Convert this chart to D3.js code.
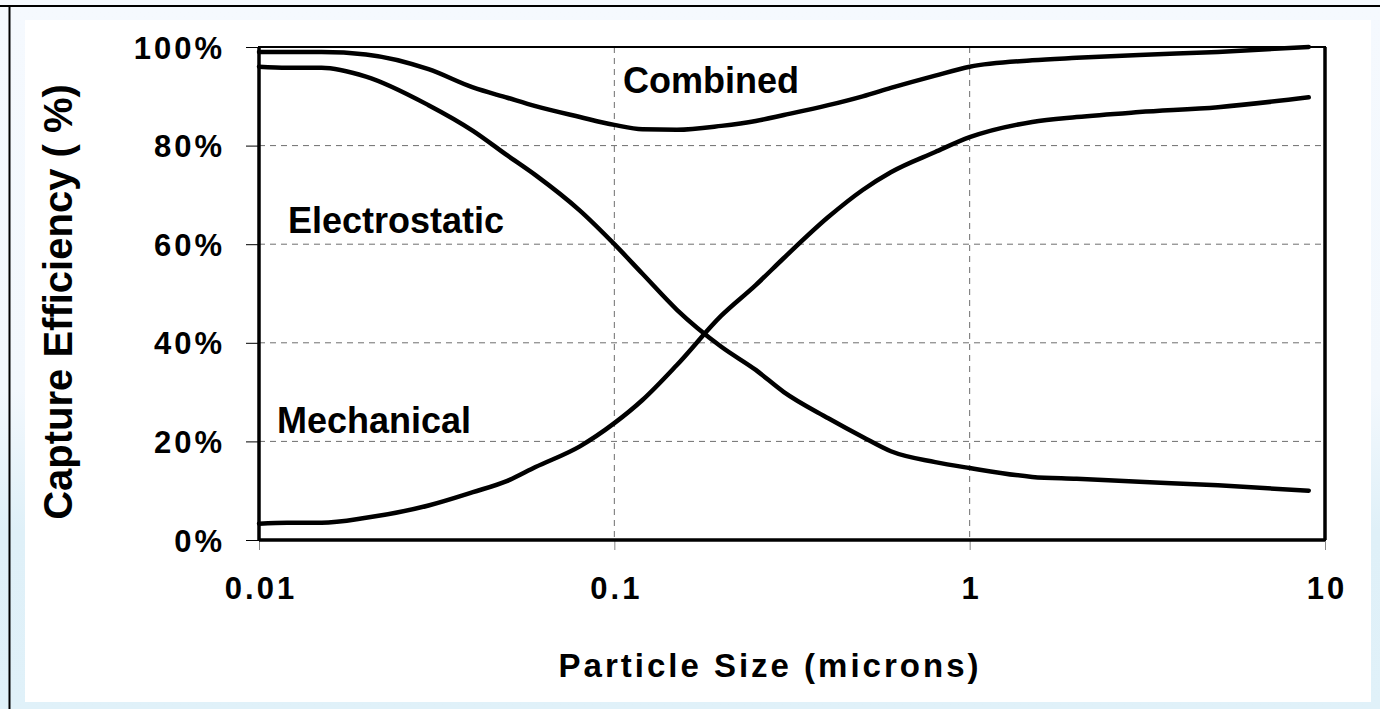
<!DOCTYPE html>
<html>
<head>
<meta charset="utf-8">
<script src="https://cdn.jsdelivr.net/npm/d3@7"></script>
<style>
  body { margin: 0; overflow: hidden; background: #fff; }
  text { font-family: Arial, "Liberation Sans", sans-serif; font-weight: bold; fill: #000; }
</style>
</head>
<body>
<script>
// particle sizes (microns)
const sizes = [0.01, 0.012, 0.015, 0.02, 0.03, 0.04, 0.05, 0.06, 0.08, 0.1, 0.12, 0.15, 0.2, 0.25, 0.3, 0.4, 0.5, 0.6, 0.8, 1, 1.5, 2, 3, 5, 9];

// capture efficiency, fraction 0..1
const combined = [0.99, 0.99, 0.99, 0.985, 0.955, 0.918, 0.897, 0.88, 0.858, 0.842, 0.833, 0.832, 0.84, 0.85, 0.862, 0.882, 0.9, 0.917, 0.942, 0.96, 0.973, 0.978, 0.984, 0.99, 1.0];
const electrostatic = [0.96, 0.958, 0.958, 0.94, 0.882, 0.83, 0.78, 0.74, 0.668, 0.6, 0.54, 0.467, 0.392, 0.345, 0.3, 0.247, 0.209, 0.18, 0.158, 0.146, 0.128, 0.124, 0.118, 0.111, 0.1];
const mechanical = [0.033, 0.035, 0.035, 0.045, 0.07, 0.097, 0.12, 0.148, 0.19, 0.237, 0.284, 0.355, 0.455, 0.517, 0.572, 0.655, 0.71, 0.746, 0.787, 0.817, 0.848, 0.858, 0.868, 0.878, 0.898];

const xTicks = [0.01, 0.1, 1, 10];
const yTicks = [0, 0.2, 0.4, 0.6, 0.8, 1];

// series labels placed inside the plot
const labels = [
  { text: 'Combined', x: 623, y: 93 },
  { text: 'Electrostatic', x: 288, y: 233 },
  { text: 'Mechanical', x: 277, y: 433 }
];

const width = 1380;
const height = 709;
const plot = { left: 259, right: 1325, top: 47, bottom: 540 };

const svg = d3.create('svg')
  .attr('width', width)
  .attr('height', height);

// light blue page background
const grad = svg.append('defs')
  .append('linearGradient')
  .attr('id', 'bg')
  .attr('x1', 0).attr('y1', 0).attr('x2', 0).attr('y2', 1);
grad.append('stop').attr('offset', '0%').attr('stop-color', '#f5f9fe');
grad.append('stop').attr('offset', '55%').attr('stop-color', '#f3f8fd');
grad.append('stop').attr('offset', '75%').attr('stop-color', '#dff0f8');
grad.append('stop').attr('offset', '100%').attr('stop-color', '#e0f1f9');

svg.append('rect')
  .attr('width', width).attr('height', height)
  .attr('fill', 'url(#bg)');

// outer frame lines (left and top only)
svg.append('line')
  .attr('x1', 0).attr('x2', width).attr('y1', 6).attr('y2', 6)
  .attr('stroke', '#000').attr('stroke-width', 2);
svg.append('line')
  .attr('x1', 9.5).attr('x2', 9.5).attr('y1', 6).attr('y2', height)
  .attr('stroke', '#000').attr('stroke-width', 2);

// white chart area
svg.append('rect')
  .attr('x', 25).attr('y', 20)
  .attr('width', 1346).attr('height', 682)
  .attr('fill', '#fff');

const x = d3.scaleLog()
  .domain([0.01, 10])
  .range([plot.left, plot.right]);

const y = d3.scaleLinear()
  .domain([0, 1])
  .range([plot.bottom, plot.top]);

// dashed gridlines
svg.append('g')
  .selectAll('line')
  .data(yTicks.filter(d => d > 0 && d < 1))
  .join('line')
  .attr('x1', plot.left).attr('x2', plot.right)
  .attr('y1', d => y(d)).attr('y2', d => y(d))
  .attr('stroke', '#6e6e6e').attr('stroke-width', 1)
  .attr('stroke-dasharray', '6,5');

svg.append('g')
  .selectAll('line')
  .data(xTicks.filter(d => d > 0.01 && d < 10))
  .join('line')
  .attr('x1', d => x(d)).attr('x2', d => x(d))
  .attr('y1', plot.top).attr('y2', plot.bottom)
  .attr('stroke', '#6e6e6e').attr('stroke-width', 1)
  .attr('stroke-dasharray', '6,5');

// y axis
const yAxis = svg.append('g')
  .attr('transform', `translate(${plot.left},0)`)
  .call(d3.axisLeft(y).tickValues(yTicks).tickSize(13).tickFormat(d3.format('.0%')));
yAxis.select('.domain').remove();
yAxis.selectAll('.tick line').attr('stroke', '#000').attr('stroke-width', 1);
yAxis.selectAll('.tick text')
  .attr('x', -34)
  .attr('dy', '0.36em')
  .style('font-size', '31px')
  .style('letter-spacing', '3px')
  .attr('font-family', null);

// x axis
const xAxis = svg.append('g')
  .attr('transform', `translate(0,${plot.bottom})`)
  .call(d3.axisBottom(x).tickValues(xTicks).tickSize(10).tickFormat(d => String(d)));
xAxis.select('.domain').remove();
xAxis.selectAll('.tick line').attr('stroke', '#888').attr('stroke-width', 1);
xAxis.selectAll('.tick text')
  .attr('y', 59)
  .attr('dy', 0)
  .attr('dx', '1.5px')
  .style('font-size', '31px')
  .style('letter-spacing', '3px')
  .attr('font-family', null);

// plot frame
svg.append('rect')
  .attr('x', plot.left).attr('y', plot.top)
  .attr('width', plot.right - plot.left)
  .attr('height', plot.bottom - plot.top)
  .attr('fill', 'none')
  .attr('stroke', '#000').attr('stroke-width', 2);
svg.append('line')
  .attr('x1', plot.left).attr('x2', plot.left)
  .attr('y1', plot.top).attr('y2', plot.bottom)
  .attr('stroke', '#000').attr('stroke-width', 3.5);
svg.append('line')
  .attr('x1', plot.left).attr('x2', plot.right)
  .attr('y1', plot.bottom).attr('y2', plot.bottom)
  .attr('stroke', '#000').attr('stroke-width', 3.5);
svg.append('line')
  .attr('x1', plot.right).attr('x2', plot.right)
  .attr('y1', plot.top).attr('y2', plot.bottom)
  .attr('stroke', '#000').attr('stroke-width', 3.5);

// curves
const line = d3.line()
  .x(d => x(d[0]))
  .y(d => y(d[1]))
  .curve(d3.curveMonotoneX);

[combined, electrostatic, mechanical].forEach(values => {
  svg.append('path')
    .datum(sizes.map((s, i) => [s, values[i]]))
    .attr('d', line)
    .attr('fill', 'none')
    .attr('stroke', '#000')
    .attr('stroke-width', 4.5)
    .attr('stroke-linecap', 'round')
    .attr('stroke-linejoin', 'round');
});

// series labels
svg.append('g')
  .selectAll('text')
  .data(labels)
  .join('text')
  .attr('x', d => d.x)
  .attr('y', d => d.y)
  .style('font-size', '36px')
  .text(d => d.text);

// axis titles
svg.append('text')
  .attr('x', 770)
  .attr('y', 677)
  .attr('text-anchor', 'middle')
  .style('font-size', '33px')
  .style('letter-spacing', '3px')
  .text('Particle Size (microns)');

svg.append('text')
  .attr('transform', 'translate(72,302) rotate(-90)')
  .attr('text-anchor', 'middle')
  .style('font-size', '40px')
  .text('Capture Efficiency ( %)');

document.body.appendChild(svg.node());
</script>
</body>
</html>
